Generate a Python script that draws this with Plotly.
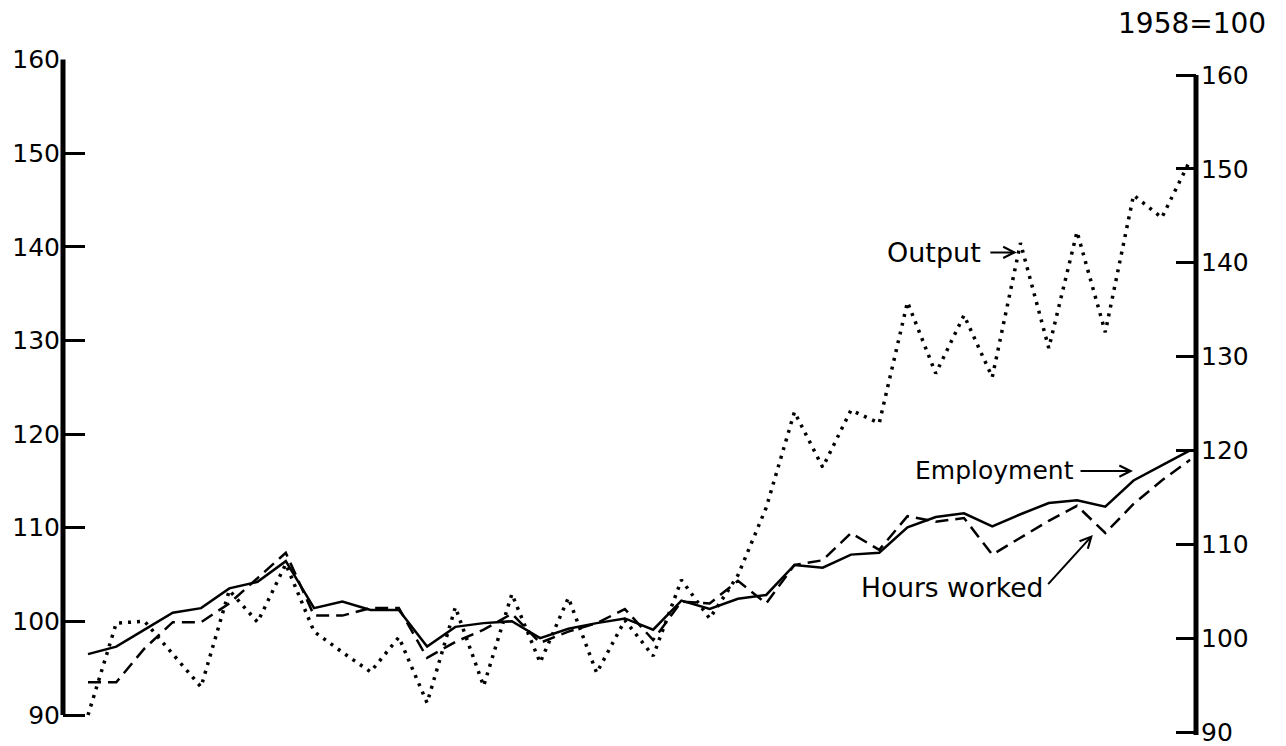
import plotly.graph_objects as go

# Quarterly observations (index positions), 1958 = 100
quarters = list(range(40))
output = [91.8, 101.6, 101.8, 98.3, 94.8, 105.1, 101.7, 107.9, 100.7, 98.5,
          96.4, 100.1, 93.1, 103.3, 94.9, 104.7, 97.4, 104.3, 96.3, 101.9,
          98.1, 106.2, 102.1, 106.7, 113.9, 124.1, 118.2, 124.3, 122.9, 135.8,
          128.2, 134.4, 127.8, 142.1, 130.9, 143.3, 132.6, 147.2, 144.8, 150.9]
employment = [98.3, 99.1, 100.9, 102.7, 103.2, 105.3, 106.0, 108.2, 103.2, 103.9,
              103.0, 103.0, 99.1, 101.2, 101.6, 101.8, 100.0, 101.0, 101.6, 102.1,
              100.9, 104.0, 103.1, 104.2, 104.6, 107.8, 107.5, 108.9, 109.1, 111.8,
              112.9, 113.3, 111.9, 113.2, 114.4, 114.7, 114.0, 116.8, 118.4, 120.0]
hours = [95.3, 95.3, 98.9, 101.7, 101.7, 103.7, 106.4, 109.1, 102.4, 102.4,
         103.2, 103.2, 97.9, 99.6, 100.9, 102.6, 99.5, 100.7, 101.6, 103.1,
         99.8, 103.9, 103.7, 106.1, 103.7, 107.8, 108.3, 111.2, 109.4, 113.0,
         112.4, 112.8, 108.9, 110.7, 112.5, 114.1, 111.2, 114.3, 116.8, 119.0]
tick_values = [90, 100, 110, 120, 130, 140, 150, 160]
tick_labels = ["90", "100", "110", "120", "130", "140", "150", "160"]

FONT = "DejaVu Sans"
INK = "black"

fig = go.Figure()
fig.add_trace(go.Scatter(x=quarters, y=output, mode="lines", yaxis="y2",
                         line=dict(color=INK, width=3.5, dash="3px,6px"),
                         name="Output"))
fig.add_trace(go.Scatter(x=quarters, y=hours, mode="lines", yaxis="y2",
                         line=dict(color=INK, width=2.5, dash="13px,7px"),
                         name="Hours worked"))
fig.add_trace(go.Scatter(x=quarters, y=employment, mode="lines", yaxis="y2",
                         line=dict(color=INK, width=2.5),
                         name="Employment"))

left_range = [87.866, 160.05]
right_range = [89.68, 161.705]

# the page body adds an 8px offset, so the figure is 8px smaller
fig.update_layout(
    width=1278, height=738,
    margin=dict(l=55, r=90, t=51, b=11, autoexpand=False),
    paper_bgcolor="white", plot_bgcolor="white",
    showlegend=False,
    font=dict(family=FONT, color=INK, size=25),
    xaxis=dict(range=[-0.885, 39.21], visible=False, showgrid=False,
               zeroline=False, automargin=False),
    yaxis=dict(range=left_range, tickvals=tick_values, ticktext=tick_labels,
               ticks="inside", ticklen=22, tickwidth=2.5, tickcolor=INK,
               showgrid=False, zeroline=False, showline=False, automargin=False,
               ticklabelstandoff=2, ticklabeloverflow="allow",
               tickfont=dict(family=FONT, size=25, color=INK)),
    yaxis2=dict(range=right_range, tickvals=tick_values, ticktext=tick_labels,
                overlaying="y", side="right",
                ticks="inside", ticklen=20, tickwidth=2.5, tickcolor=INK,
                showgrid=False, zeroline=False, showline=False, automargin=False,
                ticklabelstandoff=4, ticklabeloverflow="allow",
                tickfont=dict(family=FONT, size=25, color=INK)),
)

# hand-drawn style axis spines
fig.add_shape(type="line", xref="paper", yref="y", x0=0, x1=0, y0=90, y1=160,
              line=dict(color=INK, width=5))
fig.add_shape(type="line", xref="paper", yref="y2", x0=1, x1=1,
              y0=right_range[0], y1=160, line=dict(color=INK, width=5))

# labels
fig.add_annotation(text="1958=100", xref="paper", yref="paper", x=0.9965, y=1.052,
                   showarrow=False, font=dict(family=FONT, size=28, color=INK),
                   xanchor="center", yanchor="middle")
fig.add_annotation(text="Output", xref="x", yref="y2", x=29.94, y=141.1,
                   showarrow=False, font=dict(family=FONT, size=27, color=INK),
                   xanchor="center", yanchor="middle")
fig.add_annotation(text="Employment", xref="x", yref="y2", x=32.09, y=117.9,
                   showarrow=False, font=dict(family=FONT, size=25, color=INK),
                   xanchor="center", yanchor="middle")
fig.add_annotation(text="Hours worked", xref="x", yref="y2", x=30.57, y=105.4,
                   showarrow=False, font=dict(family=FONT, size=26.5, color=INK),
                   xanchor="center", yanchor="middle")

# arrows
arrow_style = dict(showarrow=True, arrowhead=5, arrowsize=1.1, arrowwidth=2,
                   arrowcolor=INK, text="", xref="x", yref="y2", axref="x", ayref="y2")
fig.add_annotation(x=32.87, y=141.1, ax=31.88, ay=141.1, **arrow_style)
fig.add_annotation(x=36.98, y=117.8, ax=35.07, ay=117.8, **arrow_style)
fig.add_annotation(x=35.56, y=111.0, ax=33.93, ay=105.6, **arrow_style)

fig.write_html("out.html")
